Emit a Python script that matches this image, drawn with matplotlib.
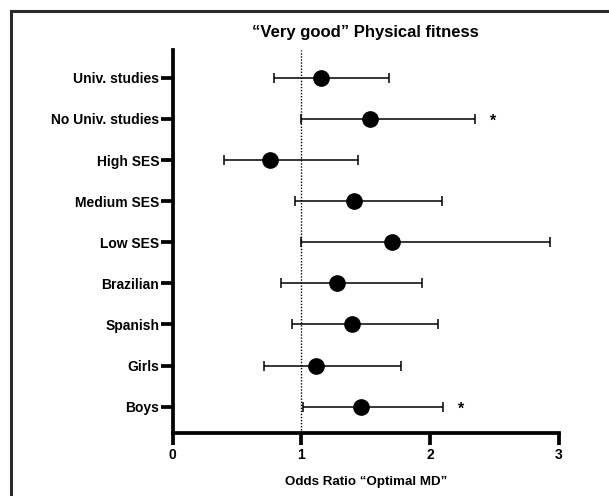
import matplotlib.pyplot as plt
from matplotlib.lines import Line2D

plt.rcParams["font.family"] = ["Liberation Sans", "DejaVu Sans"]

groups = ["Univ. studies", "No Univ. studies", "High SES", "Medium SES", "Low SES",
          "Brazilian", "Spanish", "Girls", "Boys"]
odds = [1.15, 1.535, 0.76, 1.41, 1.705, 1.28, 1.39, 1.11, 1.46]
ci_low = [0.79, 1.00, 0.40, 0.95, 1.00, 0.84, 0.93, 0.71, 1.01]
ci_high = [1.68, 2.35, 1.44, 2.09, 2.93, 1.935, 2.06, 1.77, 2.10]
signif = ["", "*", "", "", "", "", "", "", "*"]

W, H = 609, 496
fig = plt.figure(figsize=(W / 100, H / 100), dpi=100)
ax = fig.add_axes([172.5 / W, 1 - 433 / H, (559 - 172.5) / W, (433 - 49.5) / H])

ypos = list(range(len(groups), 0, -1))
err = [[o - l for o, l in zip(odds, ci_low)], [h - o for o, h in zip(odds, ci_high)]]
ax.axvline(1, color="black", linestyle=(0, (1, 1.2)), linewidth=1, zorder=1)
ax.errorbar(odds, ypos, xerr=err, fmt="o", color="black", markersize=11,
            elinewidth=1.1, capsize=3.4, capthick=1.1, zorder=3)

for y, h, s in zip(ypos, ci_high, signif):
    if s:
        ax.text(h + 0.14, y - 0.06, s, ha="center", va="center",
                fontsize=11.5, fontweight="bold")

ax.set_xlim(0, 3)
ax.set_ylim(0.36, 9.69)
ax.set_xticks([0, 1, 2, 3])
ax.set_yticks(ypos)
ax.set_yticklabels(groups)

for side in ["top", "right"]:
    ax.spines[side].set_visible(False)
for side in ["left", "bottom"]:
    ax.spines[side].set_linewidth(2.7)
ax.tick_params(width=2.7, length=8.5, labelsize=10, pad=1)
ax.tick_params(axis="x", pad=2.5)
for lab in ax.get_xticklabels() + ax.get_yticklabels():
    lab.set_fontweight("bold")

ax.set_xlabel("Odds Ratio \u201cOptimal MD\u201d", fontsize=9.6, fontweight="bold", labelpad=10)
ax.set_title("\u201cVery good\u201d Physical fitness", fontsize=12, fontweight="bold", pad=9)

# cropped frame around the figure
bx, by = 10.5 / W, 1 - 11 / H
fig.add_artist(Line2D([bx, bx], [0, by], transform=fig.transFigure, color="#2a2a2a", linewidth=2.2))
fig.add_artist(Line2D([bx, 1], [by, by], transform=fig.transFigure, color="#2a2a2a", linewidth=2.2))

fig.savefig("out.png", dpi=100)
